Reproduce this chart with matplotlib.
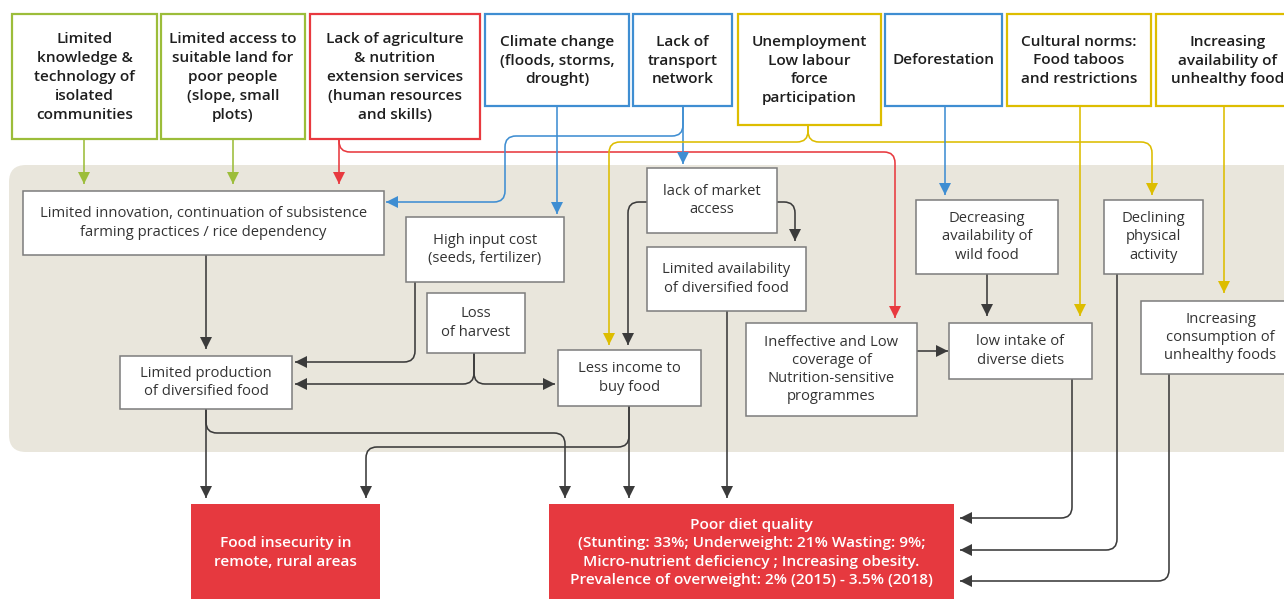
import matplotlib
matplotlib.use("Agg")
import matplotlib.pyplot as plt
import numpy as np
from matplotlib.path import Path
from matplotlib.patches import PathPatch, Polygon, FancyBboxPatch, Rectangle

plt.rcParams['font.family'] = ['Open Sans', 'DejaVu Sans']

# ---------------- content ----------------
top_labels = [
    "Limited\nknowledge &\ntechnology of\nisolated\ncommunities",
    "Limited access to\nsuitable land for\npoor people\n(slope, small\nplots)",
    "Lack of agriculture\n& nutrition\nextension services\n(human resources\nand skills)",
    "Climate change\n(floods, storms,\ndrought)",
    "Lack of\ntransport\nnetwork",
    "Unemployment\nLow labour\nforce\nparticipation",
    "Deforestation",
    "Cultural norms:\nFood taboos\nand restrictions",
    "Increasing\navailability of\nunhealthy food",
]
top_kinds = ["green", "green", "red", "blue", "blue", "yellow", "blue", "yellow", "yellow"]

mid_labels = [
    "Limited innovation, continuation of subsistence\nfarming practices / rice dependency",
    "High input cost\n(seeds, fertilizer)",
    "Loss\nof harvest",
    "Limited production\nof diversified food",
    "lack of market\naccess",
    "Limited availability\nof diversified food",
    "Less income to\nbuy food",
    "Ineffective and Low\ncoverage of\nNutrition-sensitive\nprogrammes",
    "Decreasing\navailability of\nwild food",
    "low intake of\ndiverse diets",
    "Declining\nphysical\nactivity",
    "Increasing\nconsumption of\nunhealthy foods",
]

outcome_labels = [
    "Food insecurity in\nremote, rural areas",
    "Poor diet quality\n(Stunting: 33%; Underweight: 21% Wasting: 9%;\nMicro-nutrient deficiency ; Increasing obesity.\nPrevalence of overweight: 2% (2015) - 3.5% (2018)",
]

# ---------------- layout (pixel coordinates) ----------------
top_boxes = [(12, 14, 157, 139), (161, 14, 305, 139), (310, 14, 480, 139),
             (485, 14, 629, 106), (633, 14, 732, 106), (738, 14, 881, 125),
             (885, 14, 1002, 106), (1007, 14, 1151, 106), (1156, 14, 1300, 106)]
mid_boxes = [(23, 191, 384, 255), (406, 217, 564, 282), (427, 293, 525, 353),
             (120, 356, 292, 409), (647, 168, 777, 233), (647, 247, 806, 311),
             (558, 350, 701, 406), (746, 323, 917, 416), (916, 200, 1058, 274),
             (949, 323, 1092, 379), (1104, 200, 1203, 274), (1141, 301, 1300, 374)]
out_boxes = [(191, 504, 380, 599), (549, 504, 954, 599)]

COL = {"green": "#9CBD3A", "red": "#E8393F", "blue": "#3F8ED2",
       "yellow": "#DDBD00", "dark": "#3B3B3B"}

# connectors: (colour, points), arrow head at the last point
connectors = [
    ("green", [(84, 139), (84, 184)]),
    ("green", [(233, 139), (233, 184)]),
    ("red", [(339, 139), (339, 184)]),
    ("red", [(339, 139), (339, 152), (895, 152), (895, 318)]),
    ("blue", [(557, 106), (557, 214)]),
    ("blue", [(683, 106), (683, 164)]),
    ("blue", [(683, 106), (683, 136), (505, 136), (505, 202), (386, 202)]),
    ("yellow", [(808, 125), (808, 142), (609, 142), (609, 345)]),
    ("yellow", [(808, 125), (808, 142), (1152, 142), (1152, 195)]),
    ("blue", [(945, 106), (945, 195)]),
    ("yellow", [(1080, 106), (1080, 316)]),
    ("yellow", [(1224, 106), (1224, 293)]),
    ("dark", [(206, 255), (206, 349)]),
    ("dark", [(415, 282), (415, 362), (295, 362)]),
    ("dark", [(474, 353), (474, 384), (295, 384)]),
    ("dark", [(474, 353), (474, 384), (555, 384)]),
    ("dark", [(647, 202), (628, 202), (628, 345)]),
    ("dark", [(777, 202), (795, 202), (795, 241)]),
    ("dark", [(206, 409), (206, 498)]),
    ("dark", [(206, 409), (206, 433), (565, 433), (565, 498)]),
    ("dark", [(629, 406), (629, 498)]),
    ("dark", [(629, 406), (629, 447), (366, 447), (366, 498)]),
    ("dark", [(727, 311), (727, 498)]),
    ("dark", [(917, 351), (948, 351)]),
    ("dark", [(987, 274), (987, 316)]),
    ("dark", [(1072, 379), (1072, 518), (960, 518)]),
    ("dark", [(1117, 274), (1117, 550), (960, 550)]),
    ("dark", [(1169, 374), (1169, 581), (960, 581)]),
]

W, H = 1284, 599
fig = plt.figure(figsize=(W / 100, H / 100), dpi=100)
ax = fig.add_axes([0, 0, 1, 1])
ax.set_xlim(0, W)
ax.set_ylim(H, 0)
ax.axis("off")

# beige panel
ax.add_patch(FancyBboxPatch((9, 165), 1320, 287,
                            boxstyle="round,pad=0,rounding_size=17",
                            fc="#E9E6DC", ec="none", zorder=0))


def rounded_path(pts, r=11):
    pts = [np.array(p, float) for p in pts]
    verts = [pts[0]]
    codes = [Path.MOVETO]
    n = len(pts)
    for i in range(1, n - 1):
        p0, p1, p2 = pts[i - 1], pts[i], pts[i + 1]
        l1 = np.linalg.norm(p1 - p0)
        l2 = np.linalg.norm(p2 - p1)
        d1 = (p1 - p0) / l1
        d2 = (p2 - p1) / l2
        rr = min(r, l1 * (1 if i == 1 else 0.5), l2 * (1 if i == n - 2 else 0.5))
        verts += [p1 - d1 * rr, p1, p1 + d2 * rr]
        codes += [Path.LINETO, Path.CURVE3, Path.CURVE3]
    verts.append(pts[-1])
    codes.append(Path.LINETO)
    return Path(verts, codes)


def arrowhead(p_prev, tip, color, L=12, w=12):
    p_prev = np.array(p_prev, float)
    tip = np.array(tip, float)
    d = (tip - p_prev) / np.linalg.norm(tip - p_prev)
    nrm = np.array([-d[1], d[0]])
    base = tip - d * L
    tri = [tip, base + nrm * w / 2, base - nrm * w / 2]
    ax.add_patch(Polygon(tri, closed=True, fc=color, ec="none", zorder=4))


for kind, pts in connectors:
    c = COL[kind]
    path = rounded_path(pts)
    ax.add_patch(PathPatch(path, fc="none", ec=c, lw=1.15, zorder=3,
                           capstyle="butt", joinstyle="round"))
    arrowhead(pts[-2], pts[-1], c)

# top boxes
for (x0, y0, x1, y1), lab, kind in zip(top_boxes, top_labels, top_kinds):
    ax.add_patch(Rectangle((x0, y0), x1 - x0, y1 - y0, fc="white",
                           ec=COL[kind], lw=1.6, zorder=5))
    ax.text((x0 + x1) / 2, (y0 + y1) / 2 + 0.5, lab, ha="center", va="center",
            fontsize=11.1, fontweight="semibold", color="#1E1E1E",
            linespacing=1.45, zorder=6)

# middle boxes
for (x0, y0, x1, y1), lab in zip(mid_boxes, mid_labels):
    ax.add_patch(Rectangle((x0, y0), x1 - x0, y1 - y0, fc="white",
                           ec="#7C7C7C", lw=1.1, zorder=5))
    ax.text((x0 + x1) / 2, (y0 + y1) / 2, lab, ha="center", va="center",
            fontsize=10.6, color="#333333", linespacing=1.28, zorder=6)

# outcome boxes
for (x0, y0, x1, y1), lab in zip(out_boxes, outcome_labels):
    ax.add_patch(Rectangle((x0, y0), x1 - x0, y1 - y0, fc="#E6393F",
                           ec="none", zorder=5))
    ax.text((x0 + x1) / 2, (y0 + y1) / 2 + 1, lab, ha="center", va="center",
            fontsize=11.1, fontweight="semibold", color="white",
            linespacing=1.42, zorder=6)

fig.savefig("out.png", dpi=100)
